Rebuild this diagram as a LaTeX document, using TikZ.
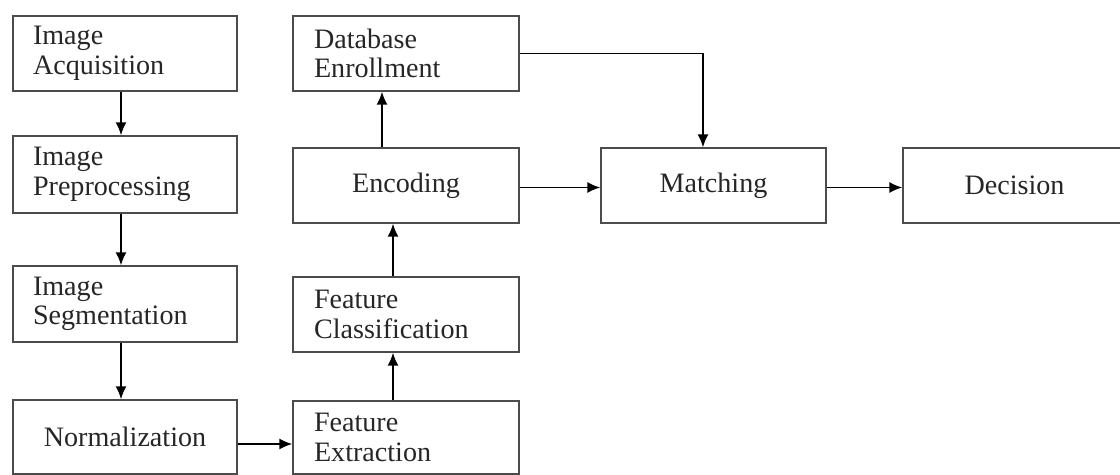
\documentclass[tikz,border=0pt]{standalone}
\usepackage{fontspec}
\setmainfont{Liberation Serif}
\usetikzlibrary{arrows.meta}

\tikzset{
    stage/.style = {shape=rectangle, draw=black!70, line width=0.7pt,
                    minimum width=4.48cm, minimum height=1.5cm, inner sep=0pt,
                    font=\fontsize{16}{16.8}\selectfont, text=black!85},
    twoline/.style = {stage, align=left, text width=3.68cm},
    oneline/.style = {stage, align=center},
    flow/.style = {-{Latex[length=0.26cm,width=0.22cm]}, line width=1.1pt}
}

\begin{document}
\begin{tikzpicture}[x=0.02cm, y=-0.02cm]
    \useasboundingbox (0, 0) rectangle (1120, 475);

    % left column
    \node (acq) [twoline] at (125, 53.5) {Image\\Acquisition};
    \node (pre) [twoline, minimum height=1.54cm] at (125, 174.5) {Image\\Preprocessing};
    \node (seg) [twoline, minimum height=1.52cm] at (125, 304) {Image\\Segmentation};
    \node (norm) [oneline, minimum height=1.48cm] at (125, 437) {Normalization};

    % middle column
    \node (ext) [twoline, minimum width=4.52cm, minimum height=1.46cm] at (406, 437.5) {Feature\\Extraction};
    \node (cls) [twoline, minimum width=4.52cm] at (406, 314.5) {Feature\\Classification};
    \node (enc) [oneline, minimum width=4.52cm] at (406, 185.5) {Encoding};
    \node (db) [twoline, minimum width=4.52cm] at (406, 53.5) {Database\\Enrollment};

    % right row
    \node (match) [oneline, minimum width=4.5cm] at (713.5, 185.5) {Matching};
    \node (dec) [oneline, minimum width=4.7cm] at (1020.5, 185.5) {\hspace*{-0.24cm}Decision};

    \draw [flow] ([xshift=-0.08cm]acq.south) -- ([xshift=-0.08cm]pre.north);
    \draw [flow] ([xshift=-0.08cm]pre.south) -- ([xshift=-0.08cm]seg.north);
    \draw [flow] ([xshift=-0.08cm]seg.south) -- ([xshift=-0.08cm]norm.north);
    \draw [flow] ([yshift=-0.14cm]norm.east) -- ([yshift=-0.14cm]norm.east -| ext.west);
    \draw [flow] ([xshift=-0.26cm]ext.north) -- ([xshift=-0.26cm]cls.south);
    \draw [flow] ([xshift=-0.26cm]cls.north) -- ([xshift=-0.26cm]enc.south);
    \draw [flow] ([xshift=-0.48cm]enc.north) -- ([xshift=-0.48cm]db.north |- db.south);
    \draw [flow] ([yshift=-0.04cm]enc.east) -- ([yshift=-0.04cm]match.west);
    \draw [flow] ([yshift=-0.04cm]match.east) -- ([yshift=-0.04cm]dec.west);
    \draw [flow] (db.east) -| ([xshift=-0.21cm]match.north);
\end{tikzpicture}
\end{document}
